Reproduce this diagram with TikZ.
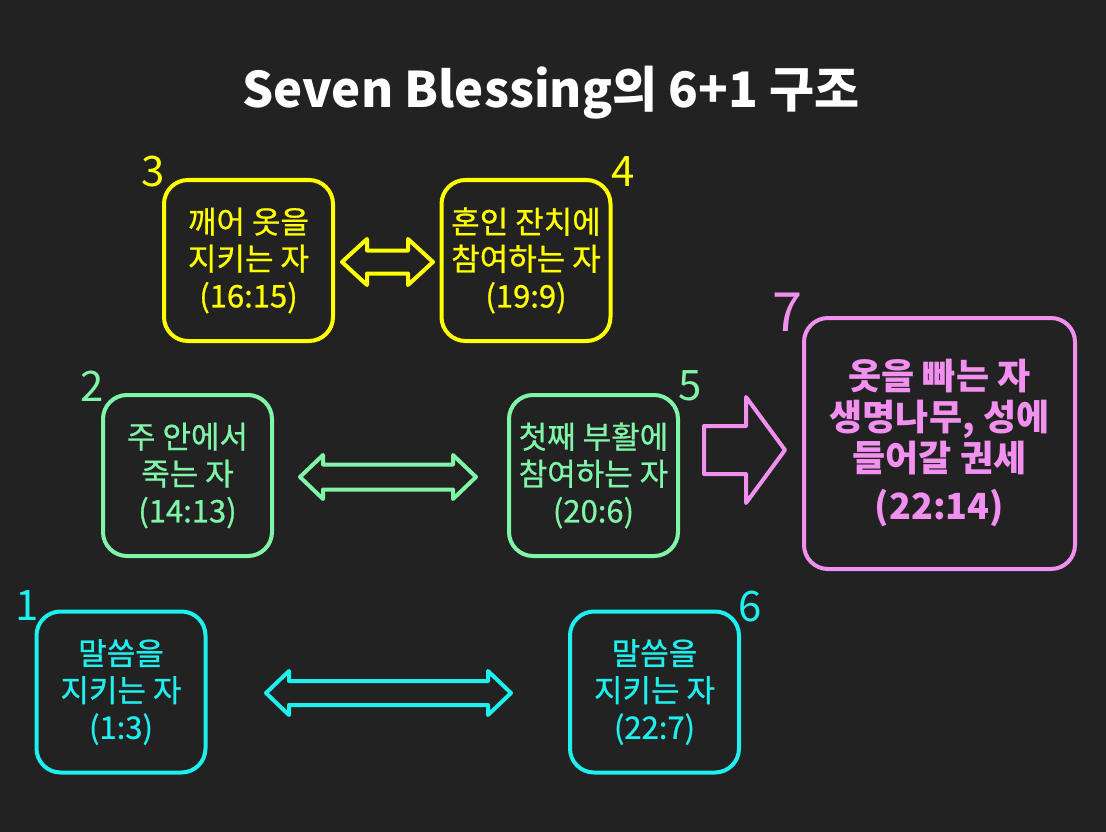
\documentclass[tikz,border=0pt]{standalone}
\usepackage{fontspec}
\setmainfont{Noto Sans CJK KR}
\newfontfamily\boxfont[FakeBold=0.8]{Noto Sans CJK KR}
\definecolor{bgc}{HTML}{222222}
\definecolor{ylw}{HTML}{FFFF00}
\definecolor{grn}{HTML}{80F5A8}
\definecolor{cyn}{HTML}{1EEFEF}
\definecolor{pnk}{HTML}{F290F0}
\newcommand\dblarr[7]{% colour, left tip, right tip, y, head length, head half, shaft half
  \draw[arrowline, draw=#1] (#2,#4) -- ({#2+#5},{#4-#6}) -- ({#2+#5},{#4-#7}) -- ({#3-#5},{#4-#7})
    -- ({#3-#5},{#4-#6}) -- (#3,#4) -- ({#3-#5},{#4+#6}) -- ({#3-#5},{#4+#7})
    -- ({#2+#5},{#4+#7}) -- ({#2+#5},{#4+#6}) -- cycle;}
\begin{document}
\begin{tikzpicture}[x=1pt,y=-1pt,
  box/.style={draw, line width=4pt, rounded corners=24pt, minimum width=169pt,
    minimum height=161pt, align=center, inner sep=0pt,
    font=\boxfont\fontsize{31}{37}\selectfont},
  num/.style={inner sep=0pt, font=\fontsize{42}{42}\selectfont},
  arrowline/.style={line width=4pt, line join=round}]
\fill[bgc] (0,0) rectangle (1106,832);
\node[anchor=base, text=white, font=\fontsize{49}{49}\selectfont\bfseries] (title) at (551,108) {Seven Blessing의 6+1 구조};
% boxes
\node[box, draw=ylw, text=ylw] (b3) at (248.5,260.5) {깨어 옷을\\지키는 자\\(16:15)};
\node[box, draw=ylw, text=ylw] (b4) at (526,260.5) {혼인 잔치에\\참여하는 자\\(19:9)};
\node[box, draw=grn, text=grn] (b2) at (187.5,475.5) {주 안에서\\죽는 자\\(14:13)};
\node[box, draw=grn, text=grn] (b5) at (593.5,475.5) {첫째 부활에\\참여하는 자\\(20:6)};
\node[box, draw=cyn, text=cyn] (b1) at (121,692) {말씀을\\지키는 자\\(1:3)};
\node[box, draw=cyn, text=cyn] (b6) at (654.5,692) {말씀을\\지키는 자\\(22:7)};
\node[box, draw=pnk, text=pnk, minimum width=271pt, minimum height=251pt,
  font=\fontsize{36}{41}\selectfont\bfseries] (b7) at (939.5,443.5)
  {옷을 빠는 자\\생명나무, 성에\\들어갈 권세\\[7pt](22:14)};
% numbers
\node[num, text=ylw] (n3) at (153,172) {3};
\node[num, text=ylw] (n4) at (623,172) {4};
\node[num, text=grn] (n2) at (92,386) {2};
\node[num, text=grn] (n5) at (690,386) {5};
\node[num, text=cyn] (n1) at (27,606) {1};
\node[num, text=cyn] (n6) at (750,607) {6};
\node[num, text=pnk, font=\fontsize{54}{54}\selectfont] (n7) at (787,312) {7};
% arrows
\dblarr{ylw}{342}{433}{262}{25}{23}{11.5}
\dblarr{grn}{300}{476}{477}{23}{22}{12.5}
\dblarr{cyn}{266}{511}{693}{23}{22}{12}
\draw[arrowline, draw=pnk] (704,426) -- (746,426) -- (746,397) -- (785,450)
  -- (746,503) -- (746,474) -- (704,474) -- cycle;
\end{tikzpicture}
\end{document}
